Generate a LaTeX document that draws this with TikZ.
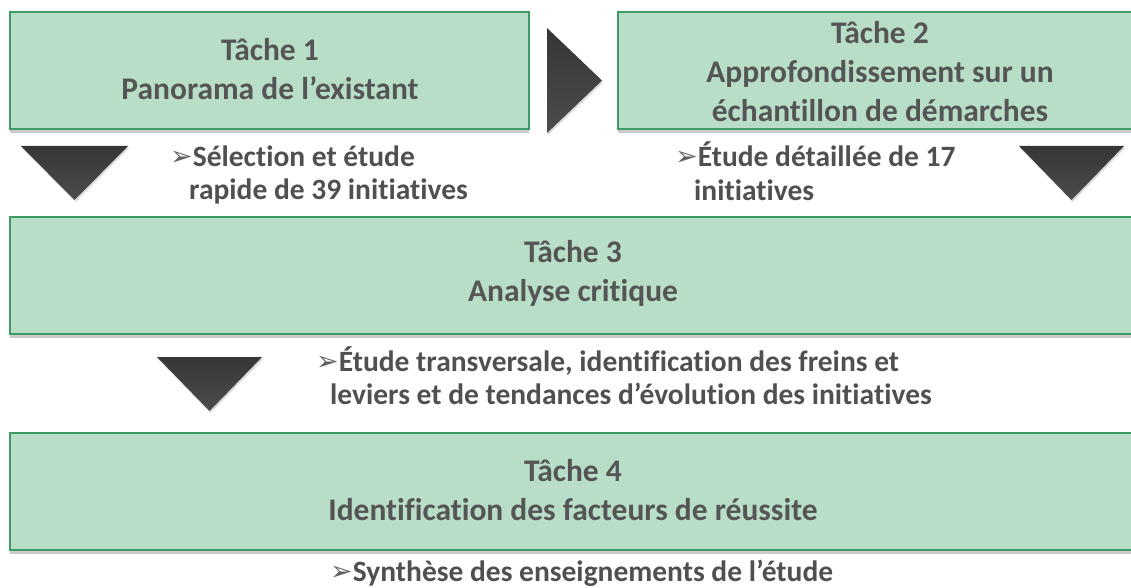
\documentclass[tikz,border=0pt]{standalone}
\usepackage{fontspec}
\setmainfont[Ligatures=NoCommon]{Carlito}
\newfontfamily\symfont{DejaVu Sans}
\usetikzlibrary{shadows}
\definecolor{boxfill}{HTML}{B8DEC8}
\definecolor{boxline}{HTML}{3E9B66}
\definecolor{txt}{HTML}{555555}
\definecolor{notetxt}{HTML}{505050}
\definecolor{bultxt}{HTML}{606060}
\definecolor{tritop}{HTML}{363636}
\definecolor{tribot}{HTML}{4C4C4C}
\tikzset{
  task/.style={draw=boxline, line width=2pt, fill=boxfill, inner sep=0pt,
    drop shadow={shadow xshift=0pt, shadow yshift=-4pt, opacity=0.35, fill=black!60}},
  titletext/.style={font=\fontsize{31.5}{39}\selectfont\bfseries, text=txt, align=center, inner sep=0pt},
  notetext/.style={font=\fontsize{29.5}{33}\selectfont\bfseries, text=notetxt, anchor=base west, inner sep=0pt},
  tri/.style={top color=tritop, bottom color=tribot, draw=none,
    drop shadow={shadow xshift=1pt, shadow yshift=-2pt, opacity=0.25, fill=black!60}}
}
\newcommand{\arrowbul}{{\symfont\fontsize{27}{27}\selectfont\color{bultxt}\raisebox{1pt}{➢}}}
\begin{document}
\begin{tikzpicture}[x=1pt,y=-1pt]
\useasboundingbox (0,0) rectangle (1131,588);
\clip (0,0) rectangle (1131,588);
% boxes
\node[task, minimum width=519pt, minimum height=117pt] (b1) at (269.5,70.5) {};
\node[task, minimum width=524pt, minimum height=117pt] (b2) at (880,70.5) {};
\node[task, minimum width=1128pt, minimum height=117pt] (b3) at (574,275.5) {};
\node[task, minimum width=1128pt, minimum height=117pt] (b4) at (574,491.5) {};
% titles
\node[titletext] (t1) at (270,69) {Tâche 1\\Panorama de l’existant};
\node[titletext] (t2) at (880,72) {Tâche 2\\Approfondissement sur un\\échantillon de démarches};
\node[titletext] (t3) at (573,273) {Tâche 3\\Analyse critique};
\node[titletext] (t4) at (573,490) {Tâche 4\\Identification des facteurs de réussite};
% triangles
\path[tri] (547,28) -- (602,80.5) -- (547,133) -- cycle;
\path[tri] (21,146) -- (128,146) -- (74.5,200) -- cycle;
\path[tri] (1019,146) -- (1124,146) -- (1071.5,200) -- cycle;
\path[tri] (157,357) -- (262,357) -- (209.5,411) -- cycle;
% notes
\node[notetext] (n1a) at (170,167) {\arrowbul Sélection et étude};
\node[notetext] (n1b) at (189,199) {rapide de 39 initiatives};
\node[notetext] (n2a) at (675,167) {\arrowbul Étude détaillée de 17};
\node[notetext] (n2b) at (694,200) {initiatives};
\node[notetext] (n3a) at (316,371) {\arrowbul Étude transversale, identification des freins et};
\node[notetext] (n3b) at (330,404) {leviers et de tendances d’évolution des initiatives};
\node[notetext] (n4a) at (330,581) {\arrowbul Synthèse des enseignements de l’étude};
\end{tikzpicture}
\end{document}
